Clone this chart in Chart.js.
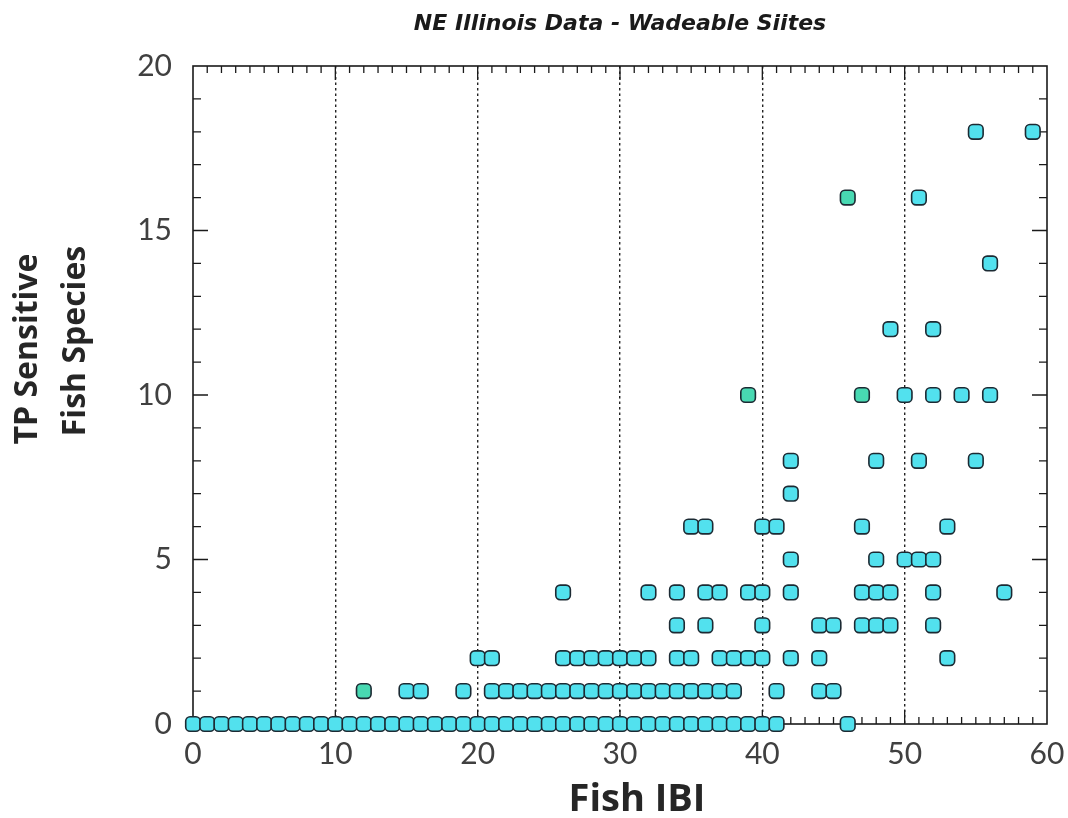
<!DOCTYPE html>
<html>
<head>
<meta charset="utf-8">
<script src="https://cdn.jsdelivr.net/npm/chart.js@4"></script>
<style>
  html, body { margin: 0; padding: 0; background: #fff; }
  #wrap { width: 1068px; height: 818px; position: relative; }
</style>
</head>
<body>
<div id="wrap"><canvas id="ibiChart"></canvas></div>
<script>
var chartTitle = 'NE Illinois Data - Wadeable Siites';
var xAxisTitle = 'Fish IBI';
var yAxisTitle = ['TP Sensitive', 'Fish Species'];
var xTicks = [0, 10, 20, 30, 40, 50, 60];
var yTicks = [0, 5, 10, 15, 20];

// Fish IBI of each site, grouped by its count of TP sensitive species
var tpLevels = [0, 1, 2, 3, 4, 5, 6, 7, 8, 10, 12, 14, 16, 18];
var ibiAt0 = [0, 1, 2, 3, 4, 5, 6, 7, 8, 9, 10, 11, 12, 13, 14, 15, 16, 17, 18, 19, 20,
              21, 22, 23, 24, 25, 26, 27, 28, 29, 30, 31, 32, 33, 34, 35, 36, 37, 38, 39, 40, 41, 46];
var ibiAt1 = [15, 16, 19, 21, 22, 23, 24, 25, 26, 27, 28, 29, 30, 31, 32, 33, 34, 35, 36, 37, 38, 41, 44, 45];
var ibiAt2 = [20, 21, 26, 27, 28, 29, 30, 31, 32, 34, 35, 37, 38, 39, 40, 42, 44, 53];
var ibiAt3 = [34, 36, 40, 44, 45, 47, 48, 49, 52];
var ibiAt4 = [26, 32, 34, 36, 37, 39, 40, 42, 47, 48, 49, 52, 57];
var ibiAt5 = [42, 48, 50, 51, 52];
var ibiAt6 = [35, 36, 40, 41, 47, 53];
var ibiAt7 = [42];
var ibiAt8 = [42, 48, 51, 55];
var ibiAt10 = [50, 52, 54, 56];
var ibiAt12 = [49, 52];
var ibiAt14 = [56];
var ibiAt16 = [51];
var ibiAt18 = [55, 59];
var ibiByLevel = [ibiAt0, ibiAt1, ibiAt2, ibiAt3, ibiAt4, ibiAt5, ibiAt6, ibiAt7,
                  ibiAt8, ibiAt10, ibiAt12, ibiAt14, ibiAt16, ibiAt18];

// the few sites drawn in a greener shade
var greenIBI = [12, 39, 47, 46];
var greenTP = [1, 10, 10, 16];

var cyanPoints = [];
tpLevels.forEach(function (tp, i) {
  ibiByLevel[i].forEach(function (ibi) {
    cyanPoints.push({ x: ibi, y: tp });
  });
});
var greenPoints = greenIBI.map(function (ibi, i) { return { x: ibi, y: greenTP[i] }; });

var FONT = 'Lato, "Open Sans", sans-serif';
var TITLE_FONT = '"Open Sans", Lato, sans-serif';

// frame with inward ticks plus the titles
var framePlugin = {
  id: 'frame',
  beforeDatasetsDraw: function (chart) {
    var ctx = chart.ctx, a = chart.chartArea;
    var xs = chart.scales.x, ys = chart.scales.y;
    ctx.save();
    ctx.strokeStyle = '#1a1a1a';
    ctx.lineWidth = 1.6;
    ctx.strokeRect(a.left, a.top, a.right - a.left, a.bottom - a.top);
    ctx.lineWidth = 1.3;
    ctx.beginPath();
    for (var v = 1; v < 20; v++) {
      var py = ys.getPixelForValue(v);
      var len = v % 5 === 0 ? 15 : 8;
      ctx.moveTo(a.left, py); ctx.lineTo(a.left + len, py);
      ctx.moveTo(a.right, py); ctx.lineTo(a.right - len, py);
    }
    for (var u = 1; u < 60; u++) {
      var px = xs.getPixelForValue(u);
      var l2 = u % 10 === 0 ? 14 : 7;
      ctx.moveTo(px, a.bottom); ctx.lineTo(px, a.bottom - l2);
      ctx.moveTo(px, a.top); ctx.lineTo(px, a.top + l2);
    }
    ctx.stroke();
    ctx.restore();
  },
  afterDraw: function (chart) {
    var ctx = chart.ctx, a = chart.chartArea;
    ctx.save();
    ctx.fillStyle = '#1a1a1a';
    ctx.textAlign = 'center';
    ctx.textBaseline = 'middle';
    ctx.font = 'italic bold 22px "DejaVu Sans", sans-serif';
    ctx.fillText(chartTitle, (a.left + a.right) / 2, 24);
    ctx.font = 'bold 38px ' + TITLE_FONT;
    ctx.fillStyle = '#262626';
    ctx.fillText(xAxisTitle, 637, 800);
    ctx.font = 'bold 32px ' + TITLE_FONT;
    var centers = [349, 341];
    yAxisTitle.forEach(function (line, i) {
      ctx.save();
      ctx.translate(28 + i * 48, centers[i]);
      ctx.rotate(-Math.PI / 2);
      ctx.fillText(line, 0, 0);
      ctx.restore();
    });
    ctx.restore();
  }
};

var markerStyle = {
  pointStyle: 'rectRounded',
  pointRadius: 8.5,
  pointHoverRadius: 8.5,
  pointBorderWidth: 1.6,
  pointBorderColor: '#1c2a33',
  showLine: false,
  clip: false
};

var chartInstance = new Chart(document.getElementById('ibiChart').getContext('2d'), {
  type: 'scatter',
  data: {
    datasets: [
      Object.assign({ label: 'Sites', data: cyanPoints, pointBackgroundColor: '#52e1ee' }, markerStyle),
      Object.assign({ label: 'Sites (green)', data: greenPoints, pointBackgroundColor: '#48d9b2' }, markerStyle)
    ]
  },
  plugins: [framePlugin],
  options: {
    responsive: true,
    maintainAspectRatio: false,
    animation: false,
    layout: { padding: { top: 66, right: 21, left: 0, bottom: 0 } },
    plugins: {
      legend: { display: false },
      title: { display: false },
      tooltip: { enabled: false }
    },
    scales: {
      x: {
        type: 'linear',
        min: 0,
        max: 60,
        afterBuildTicks: function (scale) { scale.ticks = xTicks.map(function (v) { return { value: v }; }); },
        afterFit: function (scale) {
          scale.height = 94;
          scale.paddingLeft = 0;
          scale.paddingRight = 0;
        },
        ticks: { color: '#404040', padding: 12, font: { family: FONT, size: 30 } },
        grid: {
          drawTicks: false,
          lineWidth: 1.4,
          color: function (c) {
            var v = c.tick && c.tick.value;
            return (v > 0 && v < 60) ? '#222' : 'rgba(0,0,0,0)';
          }
        },
        border: { display: false, dash: [2.5, 3] }
      },
      y: {
        type: 'linear',
        min: 0,
        max: 20,
        afterBuildTicks: function (scale) { scale.ticks = yTicks.map(function (v) { return { value: v }; }); },
        afterFit: function (scale) {
          scale.width = 193;
          scale.paddingTop = 0;
          scale.paddingBottom = 0;
        },
        ticks: { color: '#404040', padding: 21, font: { family: FONT, size: 30 } },
        grid: { display: false, drawTicks: false },
        border: { display: false }
      }
    }
  }
});
</script>
</body>
</html>
